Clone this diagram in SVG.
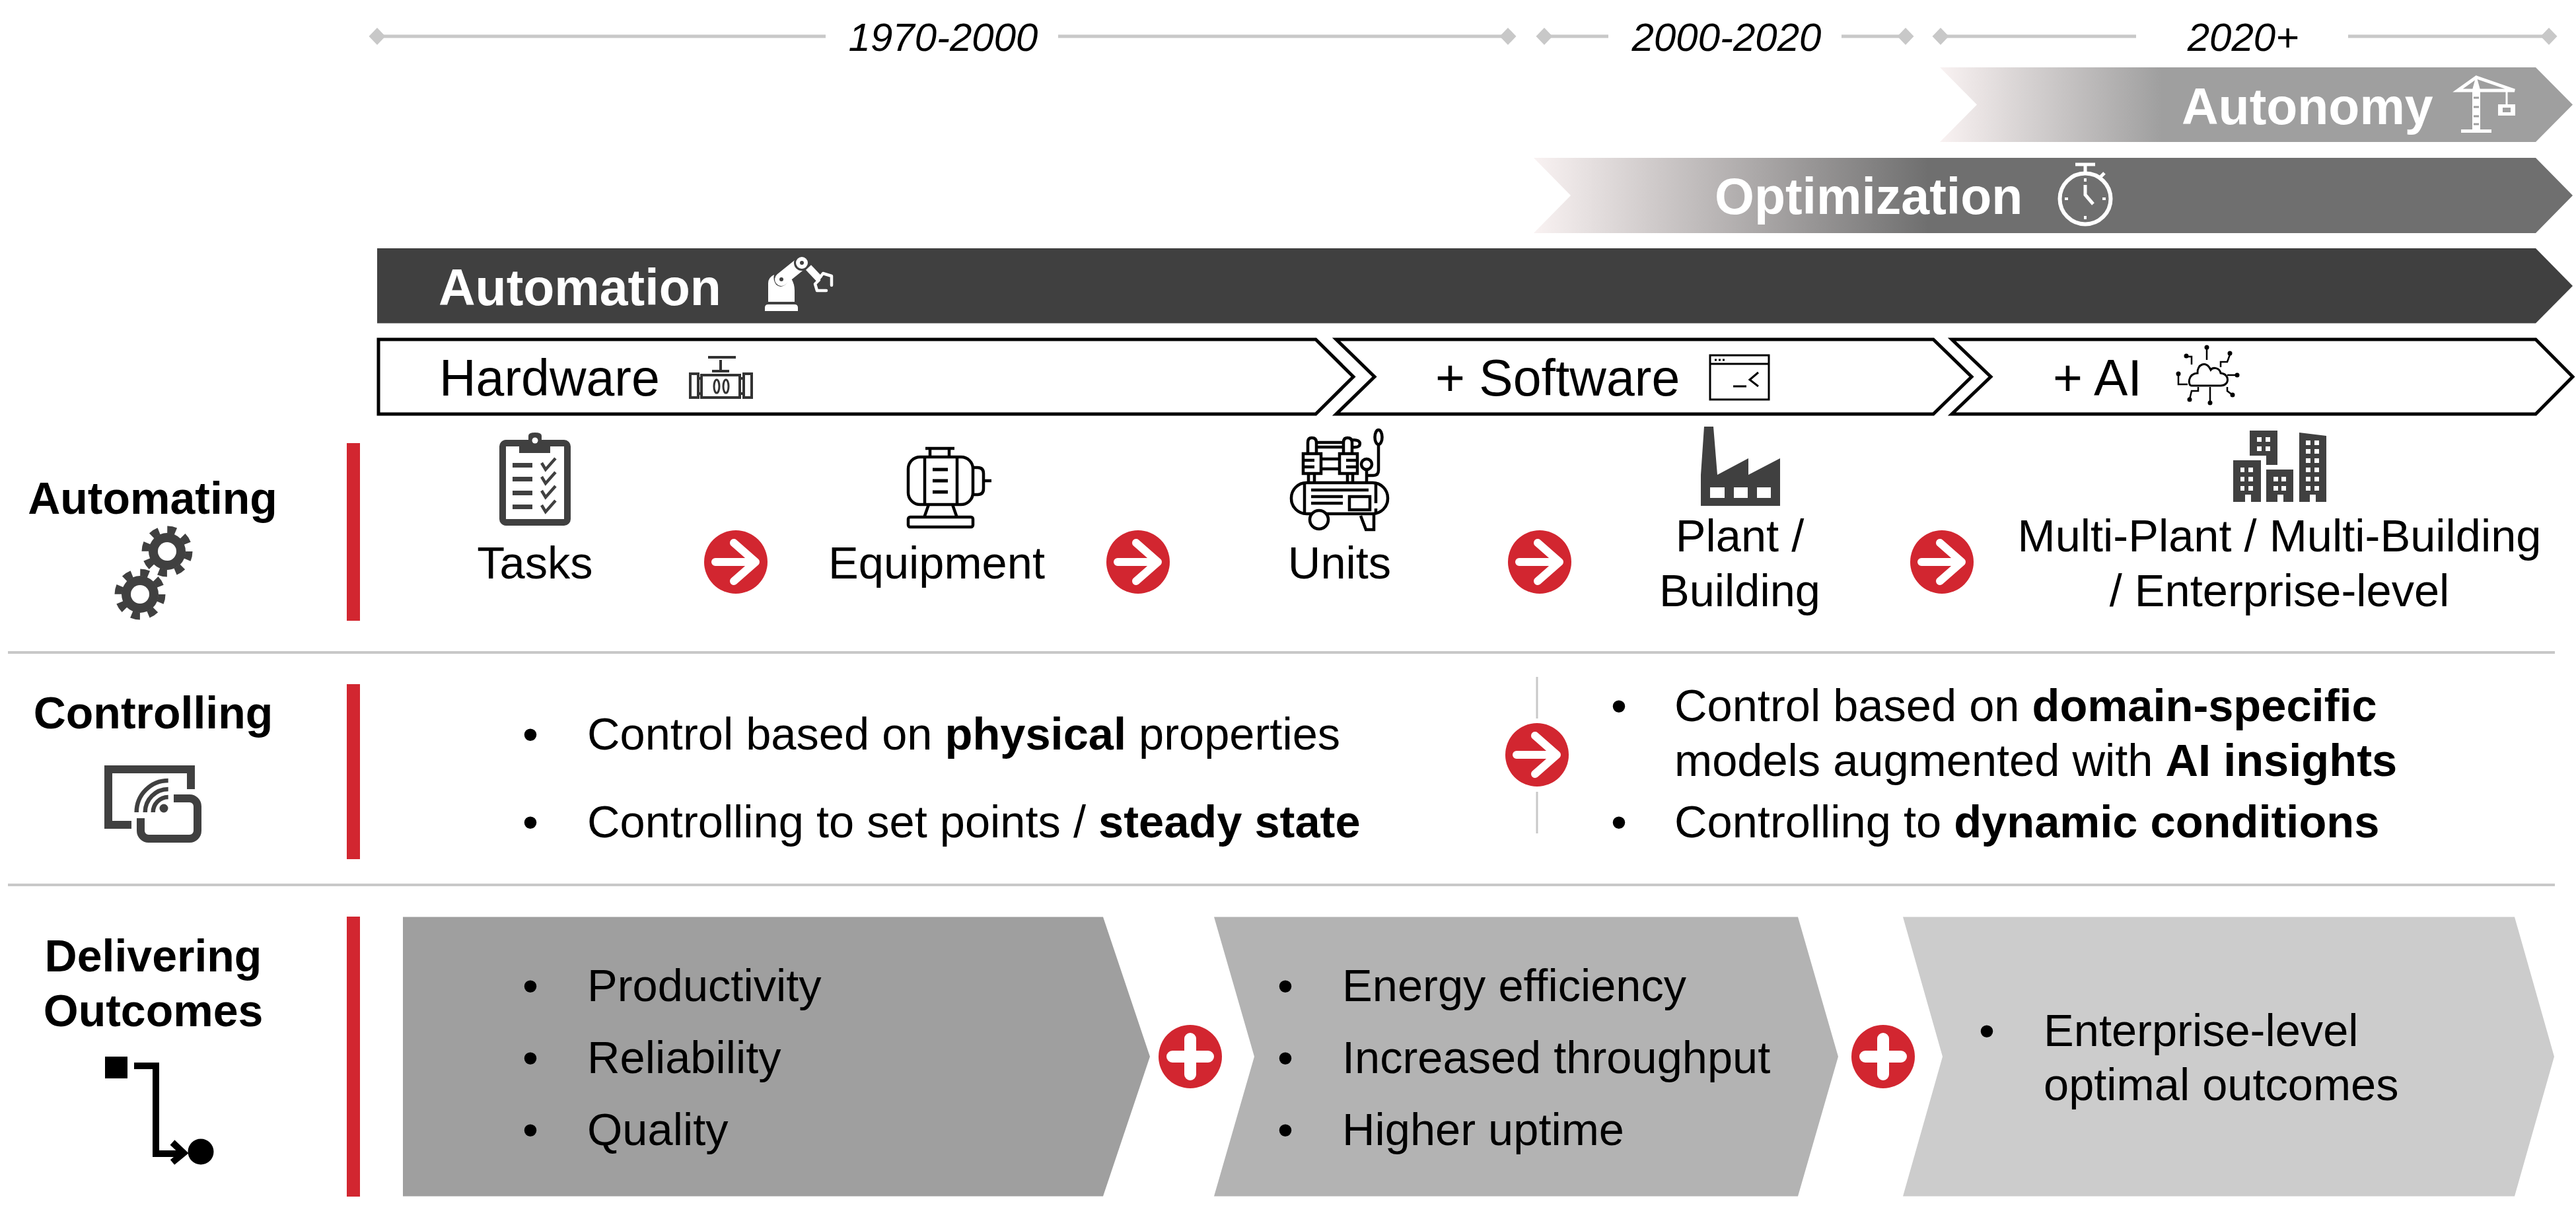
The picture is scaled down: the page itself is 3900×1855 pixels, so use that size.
<svg xmlns="http://www.w3.org/2000/svg" width="3900" height="1855" viewBox="0 0 3900 1855">
<style>
text{font-family:"Liberation Sans",Arial,sans-serif;fill:#000}
.t{font-size:68.6px}
.lab{font-size:68px;font-weight:700;text-anchor:middle}
.b{font-weight:700}
.m{text-anchor:middle}
.h{font-size:77px;font-weight:700;fill:#fff}
.o{font-size:77px}
.y{font-size:60px;font-style:italic;text-anchor:middle}
.tl{stroke:#c8c8c8;stroke-width:5;fill:none}
.sep{stroke:#c8c8c8;stroke-width:4;fill:none}
.bar{fill:#d22630}
.ol{fill:#fff;stroke:#000;stroke-width:5}
.dk{fill:#404040}
.w{fill:#fff}
.ws{fill:none;stroke:#fff;stroke-width:5}
.ks{fill:none;stroke:#000;stroke-width:4.5}
.ds{fill:none;stroke:#404040;stroke-width:12}
.ar{fill:none;stroke:#fff;stroke-width:12;stroke-linecap:round;stroke-linejoin:round}
</style>
<defs>
<path id="dia" d="M-12.5 0L0-13L12.5 0L0 13Z" fill="#c8c8c8"/>
<linearGradient id="g1" x1="0" x2="1" y1="0" y2="0"><stop offset="0" stop-color="#f9f2f2"/><stop offset=".35" stop-color="#9f9f9f"/></linearGradient>
<linearGradient id="g2" x1="0" x2="1" y1="0" y2="0"><stop offset="0" stop-color="#f9f2f2"/><stop offset=".38" stop-color="#6f6f6f"/></linearGradient>
<g id="arrow"><circle r="48" fill="#d22630"/><path class="ar" d="M-31 0H28M-3-29L30 0L-3 29"/></g>
<g id="plus"><circle r="48" fill="#d22630"/><path d="M-27 0H27M0-27V27" fill="none" stroke="#fff" stroke-width="18" stroke-linecap="round"/></g>
<g id="gear"><circle r="28" class="dk"/><circle r="33" fill="none" stroke="#404040" stroke-width="11" stroke-dasharray="13 12.92"/><circle r="14" fill="#fff"/></g>
</defs>

<g id="timeline">
<path class="tl" d="M571 55H1250M1602 55H2283M2338 55H2435M2788 55H2885M2938 55H3234M3555 55H3859"/>
<use href="#dia" x="571" y="55"/><use href="#dia" x="2283" y="55"/><use href="#dia" x="2338" y="55"/><use href="#dia" x="2885" y="55"/><use href="#dia" x="2938" y="55"/><use href="#dia" x="3859" y="55"/>
<text class="y" x="1428" y="77">1970-2000</text>
<text class="y" x="2614" y="77">2000-2020</text>
<text class="y" x="3396" y="77">2020+</text>
</g>

<g id="autonomy">
<path d="M2937 102H3839L3895 158.500L3839 215H2937L2993 158.500Z" fill="url(#g1)"/>
<text class="h" x="3303" y="188">Autonomy</text>
<path class="w" d="M3743 136L3749 114L3755 136L3755 196H3772V201H3726V196H3743Z"/>
<path d="M3745 148H3753M3745 162H3753M3745 176H3753M3745 188H3753" stroke="#9f9f9f" stroke-width="3"/>
<path d="M3721 137H3807L3749 117Z" fill="none" stroke="#fff" stroke-width="5"/>
<path d="M3782 158H3808V175H3782ZM3789 163V170H3801V163Z" class="w" fill-rule="evenodd"/><rect class="w" x="3793.500" y="137" width="3" height="21"/>
</g>

<g id="optimization">
<path d="M2322 239H3839L3895 296L3839 353H2322L2378 296Z" fill="url(#g2)"/>
<text class="h" x="2596" y="324">Optimization</text>
<circle cx="3157" cy="301" r="38.500" fill="none" stroke="#fff" stroke-width="6"/>
<path class="ws" d="M3157 280V295L3169 309M3157 250V262M3142 249H3172M3180 268L3186 262"/>
<path d="M3157 270v5M3157 327v5M3126 301h5M3183 301h5" stroke="#fff" stroke-width="4"/>
</g>

<g id="automation">
<path d="M571 376H3839L3895 433L3839 489.500H571Z" fill="#404040"/>
<text class="h" x="664" y="462">Automation</text>
<path class="w" d="M1158 471V466Q1158 461 1163 461H1203Q1208 461 1208 466V471Z"/>
<path class="w" d="M1163 457V429Q1163 420 1172 416Q1170 424 1175 431Q1183 438 1192 428L1198 422Q1203 430 1203 440V457Z"/>
<path d="M1183 423L1214 398" fill="none" stroke="#fff" stroke-width="20" stroke-linecap="round"/>
<circle cx="1214" cy="398" r="12" fill="#404040"/>
<circle cx="1214" cy="398" r="9" fill="#fff"/>
<circle cx="1214" cy="398" r="3" fill="#404040"/>
<circle cx="1183" cy="423" r="3" fill="#404040"/>
<path d="M1224 405L1241 423" fill="none" stroke="#fff" stroke-width="11"/>
<path d="M1240 422L1246 414L1259 418V432M1240 424L1234 430L1237 440H1251" fill="none" stroke="#fff" stroke-width="4.500" stroke-linecap="round" stroke-linejoin="round"/>
</g>

<g id="hardware">
<path class="ol" d="M573 514H1992L2049 570.500L1992 627H573Z"/>
<text class="o" x="665" y="599">Hardware</text>
<path d="M1072 541H1114M1091 545V560M1078 562H1104M1062 568H1120V602H1062ZM1045 566H1057V602H1045ZM1126 566H1138V602H1126ZM1057 573H1062M1057 596H1062M1120 573H1126M1120 596H1126" fill="none" stroke="#333" stroke-width="4"/>
<ellipse cx="1085" cy="585" rx="4" ry="10" fill="none" stroke="#333" stroke-width="3"/><ellipse cx="1099" cy="585" rx="4" ry="10" fill="none" stroke="#333" stroke-width="3"/>
</g>

<g id="software">
<path class="ol" d="M2023 514H2927L2985 570.500L2927 627H2023L2081 570.500Z"/>
<text class="o" x="2173" y="599">+ Software</text>
<rect x="2589" y="538" width="89" height="67" fill="#fff" stroke="#000" stroke-width="3"/>
<path d="M2589 551H2678M2624 585H2644M2662 564L2649 575L2662 585" fill="none" stroke="#000" stroke-width="3"/>
<path d="M2596 545h3M2602 545h3M2608 545h3" stroke="#000" stroke-width="3"/>
</g>

<g id="ai">
<path class="ol" d="M2955 514H3839L3895 570.500L3839 627H2955L3014 570.500Z"/>
<text class="o" x="3108" y="599">+ AI</text>
<path d="M3318 584H3362C3376 584 3376 566 3362 565C3360 556 3350 556 3347 560C3340 545 3326 552 3327 565C3312 566 3312 584 3318 584Z" fill="none" stroke="#000" stroke-width="3"/>
<path d="M3341 527V545M3310 540H3318V552M3376 537L3372 548H3362V556M3387 568H3372M3380 598L3372 592V586M3346 608V586M3315 605L3318 592H3328V586M3298 566V582H3312" fill="none" stroke="#000" stroke-width="2.500"/>
<g><circle cx="3341" cy="526" r="3.500"/><circle cx="3310" cy="539" r="3.500"/><circle cx="3376" cy="535" r="3.500"/><circle cx="3387" cy="568" r="3.500"/><circle cx="3380" cy="598" r="3.500"/><circle cx="3346" cy="610" r="3.500"/><circle cx="3315" cy="605" r="3.500"/><circle cx="3298" cy="566" r="3.500"/></g>
</g>

<g id="automating">
<text class="lab" x="231" y="778">Automating</text>
<use href="#gear" x="253" y="835"/><use href="#gear" x="212" y="900"/>
<rect class="bar" x="525" y="671" width="20" height="269"/>
</g>

<g id="tasks">
<rect x="761" y="671" width="98" height="120" rx="5" fill="#fff" stroke="#404040" stroke-width="10"/>
<path class="dk" d="M786 686V666H800V660Q800 655 810 655Q820 655 820 660V666H833V686Z"/><circle cx="810" cy="667" r="4.500" fill="#fff"/>
<g class="dk"><rect x="776" y="701" width="30" height="7"/><rect x="776" y="722" width="30" height="7"/><rect x="776" y="743" width="30" height="7"/><rect x="776" y="764" width="30" height="7"/></g>
<path d="M820 701L826 711L841 694M820 722L826 732L841 715M820 743L826 753L841 736M820 765L826 775L841 758" fill="none" stroke="#404040" stroke-width="4.500"/>
<text class="t m" x="810" y="876">Tasks</text>
</g>

<g id="equipment">
<rect x="1375" y="692" width="98" height="72" rx="18" class="ks"/>
<path class="ks" d="M1400 692V764M1449 692V764M1408 691V679H1437V691M1401 679H1445M1474 708H1480Q1489 708 1489 717V740Q1489 749 1480 749H1474M1489 728H1501M1406 764L1399 784M1442 764L1449 784"/>
<rect x="1375" y="783" width="98" height="15" rx="3" class="ks"/>
<path d="M1412 711H1435M1412 728H1435M1412 745H1435" stroke="#000" stroke-width="5"/>
<text class="t m" x="1418" y="876">Equipment</text>
</g>

<g id="units">
<rect x="1955" y="731" width="146" height="47" rx="23" class="ks"/>
<circle cx="1997" cy="787" r="14" fill="#fff" stroke="#000" stroke-width="4.500"/>
<path class="ks" d="M1975 731V778M2083 731V762M2083 770V778M1985 742H2072M1985 752H2033M1985 762H2033M2060 781L2068 802H2080V780"/>
<rect x="2043" y="752" width="31" height="20" class="ks"/>
<path class="ks" d="M1973 687H2000V717H1973ZM2028 687H2055V717H2028ZM1980 687V670Q1980 663 1986 663Q1993 663 1993 670V687M2034 687V670Q2034 663 2040 663Q2047 663 2047 670V687M1993 670H2034M1993 677H2034M2000 695H2028M2000 710H2028M1973 697H1990M1973 707H1990M2038 697H2055M2038 707H2055M1981 717V731M1990 717V731M2040 717V731M2048 717V731M2069 711V731M2087 673V712Q2087 720 2079 720H2070M2047 666Q2062 666 2058 675Q2055 678 2047 677"/>
<circle cx="2069" cy="703" r="8" class="ks"/><ellipse cx="2087" cy="662" rx="5.500" ry="11" class="ks"/>
<text class="t m" x="2028" y="876">Units</text>
</g>

<g id="plant">
<path class="dk" fill-rule="evenodd" d="M2575 719L2580 646H2594L2600 719L2647 694V719L2695 694V766H2575ZM2589 738V754H2611V738ZM2625 738V754H2646V738ZM2660 738V754H2681V738Z"/>
<text class="t m" x="2634" y="835">Plant /</text>
<text class="t m" x="2634" y="918">Building</text>
</g>

<g id="multi">
<path class="dk" d="M3406 652H3448V704H3431V690H3406Z"/>
<path class="dk" d="M3381 697H3423V760H3408V749H3399V760H3381Z"/>
<path class="dk" d="M3431 711H3472V760H3457V749H3448V760H3431Z"/>
<path class="dk" d="M3481 655L3522 660V760H3506V749H3497V760H3481Z"/>
<path class="w" d="M3417 662h7v7h-7zM3430 662h7v7h-7zM3417 676h7v7h-7zM3430 676h7v7h-7zM3392 708h6v7h-6zM3404 708h7v7h-7zM3392 722h6v7h-6zM3404 722h7v7h-7zM3392 736h6v7h-6zM3404 736h7v7h-7zM3442 722h7v7h-7zM3454 722h7v7h-7zM3442 736h7v7h-7zM3454 736h7v7h-7zM3491 667h7v7h-7zM3504 667h7v7h-7zM3491 680h7v7h-7zM3504 680h7v7h-7zM3491 694h7v7h-7zM3504 694h7v7h-7zM3491 708h7v7h-7zM3504 708h7v7h-7zM3491 722h7v7h-7zM3504 722h7v7h-7zM3491 736h7v7h-7zM3504 736h7v7h-7z"/>
<text class="t m" x="3451" y="835">Multi-Plant / Multi-Building</text>
<text class="t m" x="3451" y="918">/ Enterprise-level</text>
</g>

<g id="dividers">
<path class="sep" d="M12 988H3868M12 1340H3868"/>
</g>

<g id="controlling">
<text class="lab" x="232" y="1103">Controlling</text>
<path class="ds" d="M199 1249H164V1165H289V1195"/>
<path class="ds" d="M213 1239V1258A12 12 0 0 0 225 1270H287A12 12 0 0 0 299 1258V1221A12 12 0 0 0 287 1209H263"/>
<circle cx="248" cy="1224" r="6.500" class="dk"/>
<path d="M206.700 1230A48 48 0 0 1 254.700 1182M219.700 1230A35 35 0 0 1 254.700 1195M231.700 1230A23 23 0 0 1 254.700 1207" fill="none" stroke="#404040" stroke-width="6.500"/>
<rect class="bar" x="525" y="1036" width="20" height="265"/>
</g>

<g id="control-left">
<text class="t" x="791" y="1135">•</text>
<text class="t" x="889" y="1135">Control based on <tspan class="b">physical</tspan> properties</text>
<text class="t" x="791" y="1268">•</text>
<text class="t" x="889" y="1268">Controlling to set points / <tspan class="b">steady state</tspan></text>
</g>

<g id="control-right">
<text class="t" x="2439" y="1092">•</text>
<text class="t" x="2535" y="1092">Control based on <tspan class="b">domain-specific</tspan></text>
<text class="t" x="2535" y="1175">models augmented with <tspan class="b">AI insights</tspan></text>
<text class="t" x="2439" y="1268">•</text>
<text class="t" x="2535" y="1268">Controlling to <tspan class="b">dynamic conditions</tspan></text>
</g>

<g id="delivering">
<text class="lab" x="232" y="1471">Delivering</text>
<text class="lab" x="232" y="1554">Outcomes</text>
<rect x="159" y="1600" width="34" height="33"/>
<path d="M203 1614H236V1747H274M261 1730L278 1746L261 1760" fill="none" stroke="#000" stroke-width="10"/>
<circle cx="304" cy="1744" r="19.500"/>
<rect class="bar" x="525" y="1388" width="20" height="424"/>
</g>

<g id="outcome1">
<path d="M610 1388.500H1670L1741 1600L1670 1811.500H610Z" fill="#9f9f9f"/>
<text class="t" x="791" y="1516">•</text><text class="t" x="889" y="1516">Productivity</text>
<text class="t" x="791" y="1625">•</text><text class="t" x="889" y="1625">Reliability</text>
<text class="t" x="791" y="1734">•</text><text class="t" x="889" y="1734">Quality</text>
</g>

<g id="outcome2">
<path d="M1838 1388.500H2722L2783 1600L2722 1811.500H1838L1899 1600Z" fill="#b3b3b3"/>
<text class="t" x="1934" y="1516">•</text><text class="t" x="2032" y="1516">Energy efficiency</text>
<text class="t" x="1934" y="1625">•</text><text class="t" x="2032" y="1625">Increased throughput</text>
<text class="t" x="1934" y="1734">•</text><text class="t" x="2032" y="1734">Higher uptime</text>
</g>

<g id="outcome3">
<path d="M2881 1388.500H3807L3867 1600L3807 1811.500H2881L2941 1600Z" fill="#cccccc"/>
<text class="t" x="2996" y="1584">•</text><text class="t" x="3094" y="1584">Enterprise-level</text>
<text class="t" x="3094" y="1666">optimal outcomes</text>
</g>

<g id="connectors">
<use href="#arrow" x="1114" y="851"/><use href="#arrow" x="1723" y="851"/><use href="#arrow" x="2331" y="851"/><use href="#arrow" x="2940" y="851"/>
<path d="M2327 1025V1088M2327 1199V1262" stroke="#c8c8c8" stroke-width="3" fill="none"/>
<use href="#arrow" x="2327" y="1143"/>
<use href="#plus" x="1802" y="1600"/><use href="#plus" x="2851" y="1600"/>
</g>
</svg>
